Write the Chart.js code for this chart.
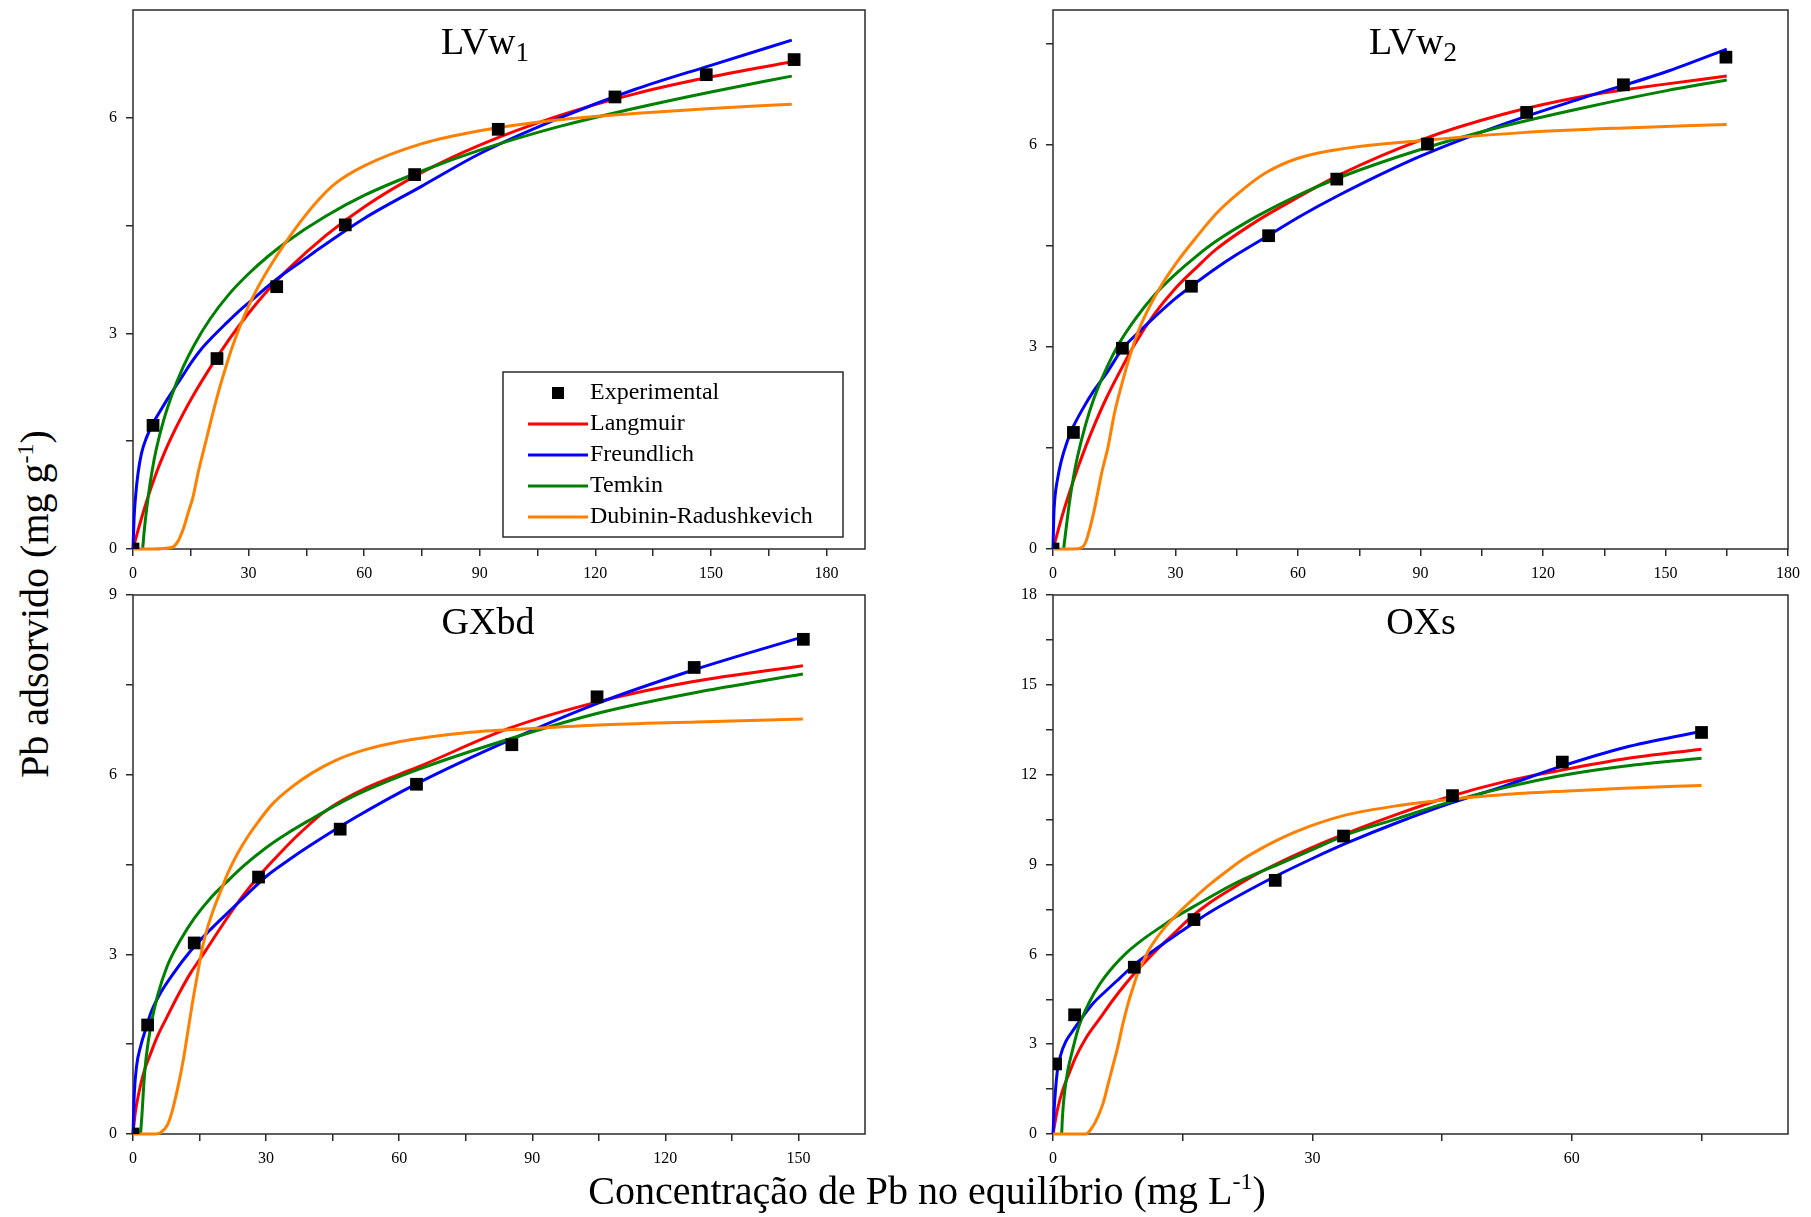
<!DOCTYPE html>
<html lang="pt">
<head>
<meta charset="UTF-8">
<title>Isotermas de adsorção de Pb</title>
<script src="https://cdn.jsdelivr.net/npm/chart.js"></script>
<style>
  body { margin: 0; background: #fff; overflow: hidden; }
  #wrap { position: relative; width: 1811px; height: 1217px; font-family: 'Liberation Serif', 'Times New Roman', serif; color: #000; }
  canvas { position: absolute; }
  .ptitle { position: absolute; font-size: 38px; line-height: 1; white-space: nowrap; transform: translateX(-50%); }
  .ptitle sub { font-size: 27px; vertical-align: -7px; line-height: 0; }
  .atitle { position: absolute; font-size: 40px; line-height: 1; white-space: nowrap; }
  .atitle sup { font-size: 24px; vertical-align: 15px; line-height: 0; }
</style>
</head>
<body>
<div id="wrap">
  <canvas id="cLVw1" width="830" height="590" style="left:60px;top:0px"></canvas>
  <canvas id="cLVw2" width="831" height="590" style="left:980px;top:0px"></canvas>
  <canvas id="cGXbd" width="830" height="590" style="left:60px;top:585px"></canvas>
  <canvas id="cOXs" width="831" height="590" style="left:980px;top:585px"></canvas>

  <div class="ptitle" style="left:485px;top:22px">LVw<sub>1</sub></div>
  <div class="ptitle" style="left:1413px;top:22px">LVw<sub>2</sub></div>
  <div class="ptitle" style="left:488px;top:602px">GXbd</div>
  <div class="ptitle" style="left:1421px;top:602px">OXs</div>

  <div class="atitle" style="left:35px;top:604px;transform:translate(-50%,-50%) rotate(-90deg)">Pb adsorvido (mg g<sup>-1</sup>)</div>
  <div class="atitle" style="left:927px;top:1171px;transform:translateX(-50%)">Concentração de Pb no equilíbrio (mg L<sup>-1</sup>)</div>
</div>

<script>
// ---- LVw1 ----
const lvw1ExpX = [0, 5.2, 21.8, 37.3, 55.1, 73.1, 94.8, 125.1, 148.8, 171.6];
const lvw1ExpY = [0, 1.72, 2.65, 3.65, 4.51, 5.21, 5.84, 6.29, 6.60, 6.81];
const lvw1LangX = [0, 1, 2, 4, 6, 8, 10, 13, 16, 20, 25, 30, 35, 40, 50, 60, 75, 90, 110, 130, 150, 171];
const lvw1LangY = [0, 0.2, 0.39, 0.74, 1.05, 1.32, 1.56, 1.88, 2.17, 2.52, 2.92, 3.28, 3.6, 3.88, 4.36, 4.76, 5.24, 5.62, 6.02, 6.33, 6.57, 6.78];
const lvw1FreuX = [0, 0.3, 0.7, 1.3, 2.2, 3.5, 5.2, 7.4, 9.1, 10.8, 13, 15.2, 17.7, 20.8, 23.8, 27.3, 31.2, 35.1, 39.4, 43.7, 48.1, 53.2, 60, 75, 90, 110, 130, 150, 171];
const lvw1FreuY = [0, 0.45, 0.75, 1.05, 1.33, 1.55, 1.75, 1.95, 2.1, 2.24, 2.42, 2.6, 2.78, 2.96, 3.12, 3.3, 3.48, 3.66, 3.84, 4.0, 4.17, 4.36, 4.6, 5.05, 5.5, 5.98, 6.39, 6.73, 7.08];
const lvw1TemkX = [2.5, 3, 4, 5, 6, 8, 10, 13, 16, 20, 25, 30, 35, 40, 50, 60, 75, 90, 110, 130, 150, 171];
const lvw1TemkY = [0, 0.3, 0.75, 1.1, 1.38, 1.8, 2.13, 2.53, 2.85, 3.2, 3.55, 3.83, 4.07, 4.28, 4.63, 4.92, 5.26, 5.55, 5.87, 6.13, 6.36, 6.58];
const lvw1DrX = [0, 5, 10, 11.7, 13, 14.3, 15.6, 16.9, 18.6, 20.3, 22.1, 23.8, 25.5, 27.7, 29.9, 32.5, 36, 39.4, 43.7, 48, 52.4, 60, 75, 90, 110, 130, 150, 171];
const lvw1DrY = [0, 0, 0.02, 0.11, 0.27, 0.5, 0.73, 1.06, 1.43, 1.8, 2.17, 2.48, 2.77, 3.09, 3.37, 3.65, 3.97, 4.25, 4.57, 4.85, 5.08, 5.33, 5.64, 5.82, 5.97, 6.06, 6.13, 6.19];

// ---- LVw2 ----
const lvw2ExpX = [0, 5.0, 17.0, 33.9, 52.8, 69.5, 91.7, 116, 139.7, 164.8];
const lvw2ExpY = [0, 1.73, 2.98, 3.90, 4.65, 5.49, 6.01, 6.48, 6.89, 7.30];
const lvw2LangX = [0, 1, 2, 4, 6, 8, 10, 13, 16, 20, 25, 30, 35, 40, 50, 60, 70, 90, 110, 130, 150, 165];
const lvw2LangY = [0, 0.22, 0.44, 0.83, 1.19, 1.52, 1.82, 2.23, 2.59, 3.04, 3.5, 3.87, 4.17, 4.45, 4.87, 5.22, 5.55, 6.07, 6.45, 6.72, 6.9, 7.02];
const lvw2FreuX = [0, 0.2, 0.5, 1, 2, 3.5, 5, 7, 10, 13, 17, 21, 25, 30, 35, 40, 45, 53, 60, 70, 90, 110, 130, 150, 165];
const lvw2FreuY = [0, 0.5, 0.78, 1.0, 1.3, 1.6, 1.82, 2.05, 2.35, 2.6, 2.97, 3.22, 3.45, 3.72, 3.95, 4.17, 4.37, 4.66, 4.92, 5.25, 5.83, 6.3, 6.7, 7.08, 7.42];
const lvw2TemkX = [2.6, 3, 4, 5, 6, 8, 10, 13, 16, 20, 25, 30, 35, 40, 50, 60, 70, 90, 110, 130, 150, 165];
const lvw2TemkY = [0, 0.2, 0.68, 1.06, 1.37, 1.85, 2.23, 2.67, 3.03, 3.4, 3.78, 4.08, 4.34, 4.57, 4.94, 5.25, 5.51, 5.93, 6.27, 6.55, 6.8, 6.96];
const lvw2DrX = [0, 5, 7, 8, 9, 10, 11, 12, 13.5, 15, 17, 19, 21, 24, 27, 30, 35, 40, 45, 52, 60, 72, 90, 115, 140, 165];
const lvw2DrY = [0, 0, 0.02, 0.1, 0.3, 0.55, 0.85, 1.15, 1.52, 2.0, 2.48, 2.9, 3.25, 3.64, 3.96, 4.23, 4.62, 4.98, 5.26, 5.58, 5.8, 5.95, 6.06, 6.18, 6.25, 6.30];

// ---- GXbd ----
const gxbdExpX = [0, 3.3, 13.8, 28.3, 46.7, 63.9, 85.4, 104.6, 126.5, 151.1];
const gxbdExpY = [0, 1.82, 3.19, 4.29, 5.09, 5.84, 6.50, 7.30, 7.79, 8.26];
const gxbdLangX = [0, 0.5, 1.3, 2.4, 4, 5.5, 7.7, 10.4, 13, 16, 19, 22, 25, 28.3, 32, 37, 43.5, 52.6, 64, 85, 105, 126, 151];
const gxbdLangY = [0, 0.35, 0.68, 1.02, 1.35, 1.63, 1.96, 2.35, 2.69, 3.02, 3.36, 3.69, 4.0, 4.3, 4.6, 4.98, 5.4, 5.78, 6.12, 6.78, 7.22, 7.55, 7.82];
const gxbdFreuX = [0, 0.3, 0.8, 1.7, 3, 4, 6, 9, 13, 17, 21, 25, 30, 35, 40, 50, 64, 85, 105, 126, 151];
const gxbdFreuY = [0, 0.68, 1.13, 1.46, 1.78, 2.02, 2.33, 2.67, 3.06, 3.38, 3.67, 3.95, 4.3, 4.57, 4.82, 5.28, 5.85, 6.58, 7.2, 7.74, 8.3];
const gxbdTemkX = [1.7, 2, 2.5, 3, 4, 5.5, 7.7, 10.8, 13.8, 17.6, 21, 25, 30, 35, 40, 46, 52, 64, 85, 105, 126, 151];
const gxbdTemkY = [0, 0.3, 0.9, 1.3, 1.8, 2.3, 2.8, 3.25, 3.6, 3.95, 4.2, 4.48, 4.78, 5.03, 5.25, 5.5, 5.72, 6.08, 6.6, 7.03, 7.36, 7.68];
const gxbdDrX = [0, 5, 6.2, 7.75, 8.9, 10, 11.2, 12.3, 13.4, 14.6, 15.7, 16.9, 18.4, 19.9, 21.4, 23.7, 26, 28.3, 31.3, 35.9, 40.4, 45.7, 52, 60, 75, 90, 105, 127, 151];
const gxbdDrY = [0, 0, 0.02, 0.15, 0.4, 0.74, 1.18, 1.68, 2.19, 2.69, 3.13, 3.47, 3.8, 4.08, 4.36, 4.7, 4.98, 5.22, 5.5, 5.8, 6.03, 6.24, 6.41, 6.55, 6.7, 6.77, 6.83, 6.88, 6.93];

// ---- OXs ----
const oxsExpX = [0.3, 2.5, 9.4, 16.3, 25.7, 33.6, 46.2, 58.9, 75.0];
const oxsExpY = [2.34, 3.98, 5.57, 7.16, 8.47, 9.95, 11.30, 12.42, 13.41];
const oxsLangX = [0, 0.5, 1.1, 1.9, 2.6, 3.8, 5.4, 7, 8.5, 10, 12, 14, 16, 18, 21, 24, 27.5, 31, 34, 40, 46, 52, 59, 66, 75];
const oxsLangY = [0, 0.8, 1.45, 2.05, 2.55, 3.2, 3.85, 4.5, 5.05, 5.55, 6.15, 6.7, 7.25, 7.7, 8.25, 8.75, 9.25, 9.7, 10.05, 10.7, 11.28, 11.75, 12.16, 12.52, 12.85];
const oxsFreuX = [0, 0.15, 0.3, 0.5, 0.9, 1.5, 2.3, 3.4, 4.6, 6.2, 7.7, 9.6, 12, 14, 16, 18, 21, 25, 30, 34, 40, 46, 52, 59, 66, 75];
const oxsFreuY = [0, 0.9, 1.5, 2.1, 2.65, 3.1, 3.45, 3.9, 4.35, 4.8, 5.2, 5.7, 6.2, 6.6, 7.0, 7.38, 7.88, 8.5, 9.2, 9.72, 10.42, 11.05, 11.6, 12.3, 12.9, 13.45];
const oxsTemkX = [1.0, 1.1, 1.3, 1.7, 2.3, 3, 4.2, 5.4, 7, 8.5, 10.4, 12.4, 14.3, 16.3, 19, 22, 26, 30, 34, 40, 46, 52, 59, 66, 75];
const oxsTemkY = [0, 0.6, 1.3, 2.1, 2.85, 3.6, 4.4, 5.0, 5.6, 6.05, 6.5, 6.9, 7.27, 7.6, 8.05, 8.5, 9.0, 9.5, 10.0, 10.55, 11.1, 11.55, 11.98, 12.28, 12.55];
const oxsDrX = [0, 3.8, 4.6, 5.2, 5.8, 6.3, 6.9, 7.5, 8.1, 8.7, 9.3, 9.8, 10.4, 11.2, 12, 12.8, 13.9, 15.1, 16.3, 18.2, 20.2, 22.1, 24, 26, 27.9, 29.9, 33.8, 40, 46, 52, 59, 66, 75];
const oxsDrY = [0, 0, 0.25, 0.58, 1.03, 1.58, 2.25, 2.92, 3.7, 4.37, 4.93, 5.37, 5.75, 6.2, 6.55, 6.85, 7.2, 7.55, 7.87, 8.35, 8.8, 9.2, 9.52, 9.82, 10.07, 10.3, 10.65, 10.97, 11.18, 11.33, 11.45, 11.55, 11.64];

// axis ranges and ticks
const lvw1XMajor = [0, 30, 60, 90, 120, 150, 180], lvw1XMinor = [15, 45, 75, 105, 135, 165];
const lvw1YMajor = [0, 3, 6], lvw1YMinor = [1.5, 4.5];
const lvw2XMajor = [0, 30, 60, 90, 120, 150, 180], lvw2XMinor = [15, 45, 75, 105, 135, 165];
const lvw2YMajor = [0, 3, 6], lvw2YMinor = [1.5, 4.5, 7.5];
const gxbdXMajor = [0, 30, 60, 90, 120, 150], gxbdXMinor = [15, 45, 75, 105, 135];
const gxbdYMajor = [0, 3, 6, 9], gxbdYMinor = [1.5, 4.5, 7.5];
const oxsXMajor = [0, 30, 60], oxsXMinor = [15, 45, 75];
const oxsYMajor = [0, 3, 6, 9, 12, 15, 18], oxsYMinor = [1.5, 4.5, 7.5, 10.5, 13.5, 16.5];

const seriesNames = ['Experimental', 'Langmuir', 'Freundlich', 'Temkin', 'Dubinin-Radushkevich'];

const FONT = "'Liberation Serif', 'Times New Roman', serif";
const lineColors = ['#ff0000', '#0000ff', '#008000', '#ff8000'];

function pts(xs, ys) {
  return xs.map((x, i) => ({ x: x, y: ys[i] }));
}

function curve(label, color, xs, ys, order) {
  return {
    label: label, data: pts(xs, ys), showLine: true, borderColor: color, backgroundColor: color,
    borderWidth: 3, pointRadius: 0, cubicInterpolationMode: 'monotone', clip: false, order: order
  };
}

function axis(max, major, minor, isX) {
  return {
    type: 'linear', min: 0, max: max,
    afterBuildTicks: s => { s.ticks = major.concat(minor).sort((a, b) => a - b).map(v => ({ value: v })); },
    afterFit: s => {
      if (isX) s.height = 41; else s.width = 73;
      // keep the plot area exactly where the layout puts it
      s.paddingTop = s.paddingBottom = s.paddingLeft = s.paddingRight = 0;
    },
    grid: { drawOnChartArea: false, drawTicks: true, tickLength: 7, color: '#2b2b2b', lineWidth: 1.5 },
    border: { display: false },
    ticks: {
      autoSkip: false, maxRotation: 0, padding: isX ? 8 : 9, color: '#000',
      font: { family: FONT, size: 16 },
      callback: v => major.includes(v) ? String(v) : ''
    }
  };
}

// box around the plot area
const framePlugin = {
  id: 'frame',
  beforeDatasetsDraw(chart) {
    const a = chart.chartArea, ctx = chart.ctx;
    ctx.save();
    ctx.strokeStyle = '#2b2b2b';
    ctx.lineWidth = 1.5;
    ctx.strokeRect(a.left, a.top, a.right - a.left, a.bottom - a.top);
    ctx.restore();
  }
};

// legend box inside the first panel
const legendPlugin = {
  id: 'boxLegend',
  afterDraw(chart) {
    const a = chart.chartArea, ctx = chart.ctx;
    const w = 340, h = 165;
    const left = a.right - 22 - w, top = a.bottom - 12 - h;
    ctx.save();
    ctx.fillStyle = '#fff';
    ctx.fillRect(left, top, w, h);
    ctx.strokeStyle = '#2b2b2b';
    ctx.lineWidth = 1.5;
    ctx.strokeRect(left, top, w, h);
    ctx.font = '24px ' + FONT;
    ctx.textBaseline = 'middle';
    chart.data.datasets.forEach((ds, i) => {
      const y = top + 21 + 31 * i;
      if (i === 0) {
        ctx.fillStyle = '#000';
        ctx.fillRect(left + 49, y - 6, 12, 12);
      } else {
        ctx.strokeStyle = ds.borderColor;
        ctx.lineWidth = 3;
        ctx.beginPath();
        ctx.moveTo(left + 25, y);
        ctx.lineTo(left + 85, y);
        ctx.stroke();
      }
      ctx.fillStyle = '#000';
      ctx.fillText(ds.label, left + 87, y);
    });
    ctx.restore();
  }
};

function panel(id, p, extra) {
  const datasets = [
    { label: seriesNames[0], data: pts(p.expX, p.expY), showLine: false, pointStyle: 'rect',
      pointRadius: 9, pointHoverRadius: 9, backgroundColor: '#000', borderColor: '#000', borderWidth: 0, order: 0 },
    curve(seriesNames[1], lineColors[0], p.langX, p.langY, 4),
    curve(seriesNames[2], lineColors[1], p.freuX, p.freuY, 3),
    curve(seriesNames[3], lineColors[2], p.temkX, p.temkY, 2),
    curve(seriesNames[4], lineColors[3], p.drX, p.drY, 1)
  ];
  new Chart(document.getElementById(id), {
    type: 'scatter',
    data: { datasets: datasets },
    options: {
      responsive: false, animation: false,
      layout: { padding: { left: 0, right: p.padRight, top: 10, bottom: 0 } },
      plugins: { legend: { display: false }, tooltip: { enabled: false } },
      scales: {
        x: axis(p.xMax, p.xMajor, p.xMinor, true),
        y: axis(p.yMax, p.yMajor, p.yMinor, false)
      }
    },
    plugins: [framePlugin].concat(extra || [])
  });
}

panel('cLVw1', {
  expX: lvw1ExpX, expY: lvw1ExpY, langX: lvw1LangX, langY: lvw1LangY, freuX: lvw1FreuX, freuY: lvw1FreuY,
  temkX: lvw1TemkX, temkY: lvw1TemkY, drX: lvw1DrX, drY: lvw1DrY,
  xMax: 190, yMax: 7.5, xMajor: lvw1XMajor, xMinor: lvw1XMinor, yMajor: lvw1YMajor, yMinor: lvw1YMinor, padRight: 25
}, [legendPlugin]);

panel('cLVw2', {
  expX: lvw2ExpX, expY: lvw2ExpY, langX: lvw2LangX, langY: lvw2LangY, freuX: lvw2FreuX, freuY: lvw2FreuY,
  temkX: lvw2TemkX, temkY: lvw2TemkY, drX: lvw2DrX, drY: lvw2DrY,
  xMax: 180, yMax: 8, xMajor: lvw2XMajor, xMinor: lvw2XMinor, yMajor: lvw2YMajor, yMinor: lvw2YMinor, padRight: 23
});

panel('cGXbd', {
  expX: gxbdExpX, expY: gxbdExpY, langX: gxbdLangX, langY: gxbdLangY, freuX: gxbdFreuX, freuY: gxbdFreuY,
  temkX: gxbdTemkX, temkY: gxbdTemkY, drX: gxbdDrX, drY: gxbdDrY,
  xMax: 165, yMax: 9, xMajor: gxbdXMajor, xMinor: gxbdXMinor, yMajor: gxbdYMajor, yMinor: gxbdYMinor, padRight: 25
});

panel('cOXs', {
  expX: oxsExpX, expY: oxsExpY, langX: oxsLangX, langY: oxsLangY, freuX: oxsFreuX, freuY: oxsFreuY,
  temkX: oxsTemkX, temkY: oxsTemkY, drX: oxsDrX, drY: oxsDrY,
  xMax: 85, yMax: 18, xMajor: oxsXMajor, xMinor: oxsXMinor, yMajor: oxsYMajor, yMinor: oxsYMinor, padRight: 23
});
</script>
</body>
</html>
